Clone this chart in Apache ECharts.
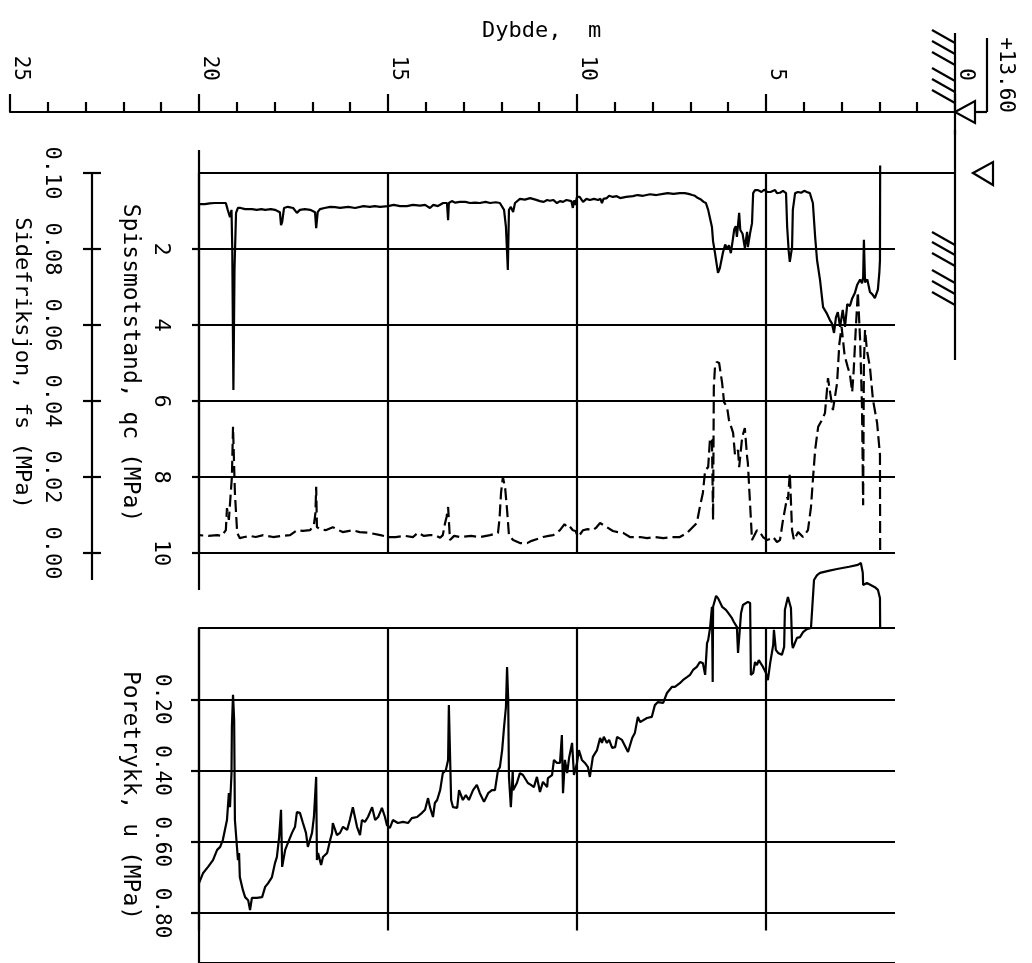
<!DOCTYPE html>
<html>
<head>
<meta charset="utf-8">
<script src="https://cdn.jsdelivr.net/npm/echarts@6/dist/echarts.min.js"></script>
<style>
  html, body { margin: 0; padding: 0; background: #fff; }
  #chart { width: 1032px; height: 963px; }
</style>
</head>
<body>
<div id="chart"></div>
<script>
// CPT sounding: tip resistance qc, sleeve friction fs and pore pressure u against depth (m)

// [depth m, qc MPa]
const qcData = [
  [1.98,-0.2],[1.985,2.3],[2.0,2.6],[2.04,3.07],[2.12,3.29],[2.18,3.2],[2.25,3.13],[2.32,2.8],[2.38,2.88],[2.41,1.76],
  [2.43,2.75],[2.46,2.9],[2.51,2.8],[2.59,2.95],[2.65,3.16],[2.72,3.3],[2.78,3.5],[2.85,3.45],[2.91,4.05],[2.97,3.6],
  [3.04,4.05],[3.10,3.66],[3.15,3.8],[3.20,4.21],[3.26,3.95],[3.31,3.87],[3.40,3.68],[3.49,3.53],[3.57,2.82],[3.65,2.29],
  [3.70,1.68],[3.76,0.79],[3.84,0.53],[3.92,0.5],[3.99,0.47],[4.07,0.52],[4.15,0.5],[4.23,0.53],[4.29,0.97],[4.31,1.95],
  [4.37,2.34],[4.40,2.05],[4.44,1.42],[4.47,0.53],[4.55,0.47],[4.63,0.52],[4.71,0.53],[4.76,0.45],[4.81,0.42],[4.88,0.5],
  [4.97,0.5],[5.05,0.44],[5.12,0.5],[5.21,0.45],[5.29,0.45],[5.34,0.53],[5.37,1.32],[5.42,1.58],[5.48,1.95],[5.50,1.55],
  [5.56,1.97],[5.62,1.6],[5.68,1.5],[5.71,1.05],[5.77,1.68],[5.80,1.4],[5.84,1.48],[5.87,1.7],[5.93,2.11],[5.98,1.9],
  [6.03,2.0],[6.08,1.88],[6.14,2.1],[6.22,2.5],[6.27,2.63],[6.35,2.1],[6.40,1.8],[6.43,1.42],[6.48,1.2],[6.53,0.97],
  [6.59,0.79],[6.65,0.76],[6.72,0.7],[6.80,0.66],[6.88,0.6],[6.95,0.58],[7.05,0.55],[7.15,0.53],[7.28,0.53],[7.45,0.55],
  [7.6,0.53],[7.72,0.55],[7.9,0.58],[8.07,0.56],[8.25,0.6],[8.4,0.58],[8.52,0.61],[8.7,0.63],[8.86,0.66],[8.95,0.61],
  [9.05,0.63],[9.15,0.6],[9.21,0.66],[9.30,0.68],[9.34,0.79],[9.38,0.68],[9.44,0.71],[9.55,0.68],[9.66,0.71],[9.75,0.68],
  [9.84,0.76],[9.93,0.63],[10.0,0.63],[10.05,0.84],[10.08,0.72],[10.11,0.92],[10.15,0.74],[10.19,0.79],[10.28,0.71],[10.37,0.76],
  [10.45,0.74],[10.53,0.79],[10.63,0.71],[10.72,0.73],[10.79,0.71],[10.88,0.76],[10.98,0.74],[11.1,0.7],[11.24,0.66],[11.38,0.7],
  [11.51,0.68],[11.64,0.79],[11.69,1.03],[11.75,0.89],[11.80,0.97],[11.83,2.55],[11.88,1.42],[11.93,0.97],[12.04,0.79],[12.15,0.77],
  [12.30,0.79],[12.42,0.76],[12.57,0.79],[12.7,0.78],[12.83,0.79],[12.95,0.76],[13.10,0.76],[13.22,0.78],[13.31,0.74],[13.39,0.79],
  [13.41,1.24],[13.44,0.79],[13.54,0.79],[13.68,0.87],[13.8,0.84],[13.89,0.92],[14.02,0.84],[14.15,0.86],[14.34,0.84],[14.5,0.87],
  [14.68,0.87],[14.85,0.84],[15.0,0.87],[15.21,0.89],[15.35,0.87],[15.48,0.89],[15.65,0.87],[15.87,0.92],[16.05,0.89],[16.27,0.92],
  [16.4,0.9],[16.53,0.89],[16.68,0.92],[16.80,0.95],[16.86,1.03],[16.90,1.45],[16.93,1.03],[17.06,0.97],[17.2,0.95],[17.33,0.97],
  [17.41,1.05],[17.51,0.92],[17.65,0.89],[17.75,0.92],[17.80,1.29],[17.83,1.37],[17.86,1.03],[17.99,0.97],[18.1,0.95],[18.25,0.97],
  [18.35,0.95],[18.47,0.97],[18.6,0.95],[18.78,0.95],[18.9,0.92],[18.97,0.92],[19.02,1.05],[19.06,2.5],[19.09,5.71],[19.12,2.0],
  [19.14,0.97],[19.18,1.16],[19.24,0.97],[19.29,0.79],[19.45,0.79],[19.58,0.79],[19.72,0.8],[19.84,0.82],[20.0,0.82]
];

// [depth m, fs MPa]
const fsData = [
  [1.98,0.0008],[1.985,0.0258],[2.01,0.0263],[2.06,0.0342],[2.17,0.0403],[2.25,0.0489],[2.33,0.0534],[2.38,0.0587],[2.41,0.05],[2.43,0.0126],
  [2.46,0.0384],[2.51,0.056],[2.57,0.0687],[2.63,0.058],[2.68,0.048],[2.72,0.0424],[2.78,0.047],[2.84,0.049],[2.92,0.052],[3.00,0.0595],
  [3.06,0.055],[3.12,0.0447],[3.23,0.0376],[3.30,0.042],[3.36,0.046],[3.44,0.0368],[3.52,0.035],[3.62,0.0332],[3.70,0.0271],[3.76,0.0192],
  [3.81,0.0121],[3.89,0.006],[4.02,0.0042],[4.15,0.0055],[4.26,0.0034],[4.31,0.006],[4.37,0.021],[4.42,0.014],[4.44,0.0147],[4.55,0.0087],
  [4.63,0.0034],[4.71,0.0029],[4.81,0.0042],[4.89,0.0037],[4.97,0.0034],[5.08,0.0042],[5.16,0.0055],[5.24,0.006],[5.37,0.0034],[5.42,0.0039],
  [5.48,0.0237],[5.50,0.0253],[5.56,0.0329],[5.63,0.0305],[5.71,0.0226],[5.74,0.0271],[5.82,0.0258],[5.87,0.0316],[5.98,0.035],[6.03,0.0384],
  [6.11,0.0397],[6.16,0.0447],[6.24,0.05],[6.30,0.0503],[6.35,0.0489],[6.38,0.0437],[6.40,0.0087],[6.43,0.0297],[6.48,0.0303],[6.53,0.0226],
  [6.61,0.0218],[6.67,0.0158],[6.75,0.0121],[6.83,0.0079],[6.96,0.0066],[7.09,0.0053],[7.28,0.0042],[7.5,0.0042],[7.72,0.0039],[7.95,0.0042],
  [8.15,0.0039],[8.33,0.0042],[8.6,0.0042],[8.78,0.0053],[8.92,0.0055],[9.05,0.0058],[9.21,0.0068],[9.39,0.0079],[9.5,0.0066],[9.58,0.006],
  [9.72,0.0063],[9.84,0.006],[9.97,0.0042],[10.04,0.0058],[10.11,0.006],[10.2,0.0071],[10.26,0.0068],[10.33,0.0076],[10.45,0.006],[10.55,0.0053],
  [10.63,0.0047],[10.75,0.0045],[10.90,0.0042],[11.05,0.0037],[11.2,0.0032],[11.32,0.0026],[11.51,0.0026],[11.69,0.0034],[11.80,0.0047],[11.85,0.0113],
  [11.90,0.017],[11.96,0.02],[12.01,0.0158],[12.05,0.009],[12.09,0.0053],[12.30,0.0047],[12.57,0.0042],[12.8,0.0045],[13.10,0.0042],[13.25,0.0045],
  [13.36,0.0034],[13.41,0.0121],[13.45,0.0095],[13.49,0.0079],[13.55,0.0047],[13.62,0.004],[13.75,0.0047],[13.89,0.0047],[14.05,0.0045],[14.21,0.0053],
  [14.34,0.0042],[14.55,0.0045],[14.8,0.0042],[15.0,0.0042],[15.2,0.0047],[15.5,0.0053],[15.75,0.0055],[15.93,0.006],[16.2,0.0055],[16.46,0.0068],
  [16.65,0.006],[16.8,0.0063],[16.88,0.0068],[16.90,0.0174],[16.92,0.0105],[16.96,0.0074],[17.06,0.006],[17.25,0.0058],[17.41,0.006],[17.59,0.0047],
  [17.8,0.0045],[18.04,0.0042],[18.3,0.0047],[18.5,0.0042],[18.65,0.0045],[18.8,0.0042],[18.92,0.0039],[18.99,0.0053],[19.05,0.0158],[19.10,0.0332],
  [19.13,0.02],[19.21,0.0087],[19.26,0.0118],[19.29,0.006],[19.4,0.0045],[19.52,0.0047],[19.75,0.0045],[20.0,0.0047]
];

// [depth m, u MPa]
const uData = [
  [1.98,0.0],[1.985,-0.079],[2.04,-0.101],[2.12,-0.108],[2.33,-0.119],[2.43,-0.114],[2.44,-0.146],[2.49,-0.172],[2.57,-0.167],[2.8,-0.162],
  [3.12,-0.156],[3.35,-0.151],[3.57,-0.146],[3.65,-0.14],[3.73,-0.127],[3.78,-0.048],[3.81,0.0],[3.92,0.003],[4.02,0.011],[4.10,0.024],
  [4.18,0.026],[4.29,0.053],[4.31,0.04],[4.34,-0.053],[4.42,-0.082],[4.44,-0.087],[4.50,-0.048],[4.52,0.05],[4.58,0.071],[4.68,0.066],
  [4.74,0.058],[4.79,0.005],[4.81,0.045],[4.89,0.093],[4.95,0.138],[5.0,0.119],[5.08,0.103],[5.11,0.106],[5.19,0.085],[5.24,0.098],
  [5.29,0.09],[5.34,0.119],[5.40,0.124],[5.42,-0.066],[5.48,-0.069],[5.53,-0.066],[5.61,-0.061],[5.66,-0.04],[5.74,0.066],[5.77,-0.003],
  [5.85,-0.016],[5.90,-0.026],[6.0,-0.04],[6.06,-0.048],[6.16,-0.056],[6.27,-0.079],[6.32,-0.085],[6.40,-0.056],[6.41,0.143],[6.43,-0.056],
  [6.48,0.0],[6.53,0.032],[6.56,0.04],[6.61,0.124],[6.67,0.093],[6.75,0.09],[6.83,0.103],[6.93,0.111],[7.01,0.124],[7.09,0.13],
  [7.2,0.138],[7.28,0.146],[7.41,0.156],[7.49,0.156],[7.62,0.172],[7.72,0.198],[7.86,0.196],[7.94,0.204],[8.02,0.235],[8.15,0.238],
  [8.33,0.249],[8.39,0.235],[8.47,0.278],[8.54,0.291],[8.65,0.328],[8.81,0.296],[8.94,0.288],[8.99,0.315],[9.07,0.317],[9.15,0.296],
  [9.21,0.304],[9.29,0.288],[9.34,0.304],[9.39,0.291],[9.47,0.323],[9.52,0.331],[9.58,0.341],[9.60,0.344],[9.66,0.394],[9.71,0.368],
  [9.79,0.357],[9.87,0.349],[9.95,0.323],[10.0,0.357],[10.08,0.389],[10.13,0.304],[10.21,0.344],[10.26,0.384],[10.32,0.349],[10.37,0.437],
  [10.40,0.283],[10.45,0.357],[10.53,0.357],[10.61,0.349],[10.66,0.389],[10.77,0.397],[10.79,0.421],[10.90,0.407],[10.98,0.434],[11.06,0.394],
  [11.14,0.421],[11.22,0.415],[11.30,0.41],[11.43,0.389],[11.51,0.384],[11.59,0.41],[11.69,0.429],[11.70,0.376],[11.72,0.42],[11.75,0.474],
  [11.80,0.394],[11.82,0.19],[11.85,0.103],[11.88,0.209],[11.93,0.262],[11.98,0.323],[12.04,0.368],[12.09,0.376],[12.17,0.429],[12.25,0.429],
  [12.35,0.437],[12.46,0.46],[12.57,0.437],[12.65,0.415],[12.75,0.429],[12.86,0.455],[12.94,0.442],[13.02,0.455],[13.12,0.429],[13.17,0.476],
  [13.28,0.474],[13.33,0.455],[13.39,0.204],[13.41,0.349],[13.47,0.376],[13.55,0.384],[13.62,0.429],[13.70,0.455],[13.76,0.463],[13.81,0.5],
  [13.89,0.474],[13.94,0.45],[14.02,0.481],[14.10,0.489],[14.23,0.5],[14.37,0.503],[14.47,0.516],[14.6,0.513],[14.74,0.516],[14.87,0.508],
  [14.95,0.529],[15.03,0.521],[15.08,0.5],[15.16,0.476],[15.26,0.5],[15.34,0.508],[15.42,0.474],[15.53,0.5],[15.61,0.513],[15.69,0.508],
  [15.74,0.548],[15.82,0.526],[15.93,0.474],[16.01,0.508],[16.08,0.534],[16.19,0.526],[16.27,0.542],[16.35,0.548],[16.46,0.516],[16.48,0.542],
  [16.53,0.561],[16.61,0.595],[16.72,0.606],[16.77,0.627],[16.85,0.595],[16.88,0.614],[16.90,0.394],[16.96,0.5],[17.01,0.542],[17.12,0.579],
  [17.17,0.542],[17.25,0.516],[17.33,0.489],[17.41,0.487],[17.46,0.526],[17.54,0.542],[17.65,0.569],[17.72,0.587],[17.80,0.632],[17.83,0.481],
  [17.88,0.553],[17.94,0.606],[17.99,0.622],[18.07,0.659],[18.17,0.675],[18.25,0.685],[18.33,0.712],[18.47,0.714],[18.60,0.714],[18.65,0.746],
  [18.70,0.72],[18.78,0.712],[18.84,0.693],[18.92,0.659],[18.94,0.595],[18.97,0.614],[18.99,0.587],[19.05,0.508],[19.07,0.243],[19.10,0.177],
  [19.13,0.262],[19.14,0.384],[19.18,0.474],[19.21,0.437],[19.26,0.508],[19.37,0.561],[19.44,0.579],[19.52,0.587],[19.63,0.614],[19.76,0.632],
  [19.89,0.648],[20.0,0.675]
];

const depthTitle = 'Dybde,  m';
const qcTitle = 'Spissmotstand, qc (MPa)';
const fsTitle = 'Sidefriksjon, fs (MPa)';
const uTitle = 'Poretrykk, u (MPa)';
const groundLevel = '+13.60';

// ---- layout (pixels) ----
const FONT = 'DejaVu Sans Mono';
const INK = '#000';
const LW = 2.2;
const CURVE_W = 2.2;
const X0 = 955;              // depth 0
const PXM = 37.8;            // pixels per metre
const X20 = X0 - 20 * PXM;   // depth 20 (left frame)
const XR = 895;              // right end of the panel grid lines
const RULER_Y = 112;
const UP_TOP = 173, UP_H = 380;
const LO_TOP = 628, PX_U = 378;
const FS_X = 92;

const inkLine = { color: INK, width: LW };
const fix2 = v => Number(v).toFixed(2);

const chart = echarts.init(document.getElementById('chart'));

function seg(x1, y1, x2, y2) {
  return { type: 'line', silent: true, shape: { x1, y1, x2, y2 }, style: { stroke: INK, lineWidth: LW } };
}
function tri(points) {
  return { type: 'polygon', silent: true, shape: { points }, style: { stroke: INK, fill: '#fff', lineWidth: LW } };
}
function hatch(x, ys) {
  return ys.map(y => seg(x - 23, y, x, y + 13));
}

const plotX = (gridIndex) => ({
  gridIndex, type: 'value', min: 0, max: 20, interval: 5, inverse: true, position: 'top',
  axisLine: { show: false, onZero: false }, axisTick: { show: false }, axisLabel: { show: false },
  splitLine: { show: true, showMinLine: false, lineStyle: inkLine }
});
const hiddenAxis = (gridIndex, min, max, inverse) => ({ gridIndex, type: 'value', show: false, min, max, inverse: !!inverse });

const option = {
  animation: false,
  backgroundColor: '#fff',
  textStyle: { fontFamily: FONT, color: INK },
  grid: [
    { left: X0 - 25 * PXM, top: RULER_Y, width: 25 * PXM, height: 1 },
    { left: X20, top: UP_TOP, width: 20 * PXM, height: UP_H },
    { left: X20, top: UP_TOP, width: XR - X20, height: UP_H },
    { left: X20, top: LO_TOP, width: 20 * PXM, height: 0.8 * PX_U },
    { left: X20, top: LO_TOP, width: XR - X20, height: 0.94 * PX_U }
  ],
  xAxis: [
    {
      gridIndex: 0, type: 'value', min: 0, max: 25, interval: 5, inverse: true, position: 'top',
      axisLine: { show: true, onZero: false, lineStyle: inkLine },
      axisTick: { show: true, inside: false, length: 18, lineStyle: inkLine },
      minorTick: { show: true, splitNumber: 5, length: 10, lineStyle: inkLine },
      axisLabel: { show: true, rotate: 90, margin: 31, align: 'right', verticalAlign: 'bottom',
        fontSize: 21, fontFamily: FONT, color: INK },
      splitLine: { show: false }
    },
    plotX(1),
    hiddenAxis(2, 0, 1),
    plotX(3),
    hiddenAxis(4, 0, 1)
  ],
  yAxis: [
    hiddenAxis(0, 0, 1),
    hiddenAxis(1, 0, 10, true),
    hiddenAxis(1, 0, 0.1),
    {
      gridIndex: 2, type: 'value', min: 0, max: 10, interval: 2, inverse: true, position: 'left',
      axisLine: { show: true, onZero: false, lineStyle: inkLine },
      axisTick: { show: true, length: 7, lineStyle: inkLine },
      axisLabel: { rotate: -90, margin: 27, align: 'center', verticalAlign: 'top', showMinLabel: false,
        fontSize: 22, fontFamily: FONT, color: INK },
      splitLine: { show: true, lineStyle: inkLine },
      name: qcTitle, nameLocation: 'middle', nameRotate: -90, nameGap: 58,
      nameTextStyle: { fontSize: 23, fontFamily: FONT, color: INK, align: 'center', verticalAlign: 'top' }
    },
    {
      gridIndex: 2, type: 'value', min: 0, max: 0.1, interval: 0.02, position: 'left', offset: X20 - FS_X,
      axisLine: { show: true, onZero: false, lineStyle: inkLine },
      axisTick: { show: true, length: 9, lineStyle: inkLine },
      axisLabel: { rotate: -90, margin: 29, align: 'center', verticalAlign: 'top', formatter: fix2,
        fontSize: 22, fontFamily: FONT, color: INK },
      splitLine: { show: false },
      name: fsTitle, nameLocation: 'middle', nameRotate: -90, nameGap: 59,
      nameTextStyle: { fontSize: 22, fontFamily: FONT, color: INK, align: 'center', verticalAlign: 'top' }
    },
    {
      gridIndex: 2, type: 'value', min: 0, max: 0.1, interval: 0.02, position: 'left', offset: X20 - FS_X,
      axisLine: { show: false, onZero: false },
      axisTick: { show: true, inside: true, length: 9, lineStyle: inkLine },
      axisLabel: { show: false }, splitLine: { show: false }
    },
    hiddenAxis(3, 0, 0.8, true),
    {
      gridIndex: 4, type: 'value', min: 0, max: 0.94, interval: 0.2, inverse: true, position: 'left',
      axisLine: { show: true, onZero: false, lineStyle: inkLine },
      axisTick: { show: true, length: 8, lineStyle: inkLine },
      axisLabel: { rotate: -90, margin: 27, align: 'center', verticalAlign: 'top', formatter: fix2,
        showMinLabel: false, showMaxLabel: false, fontSize: 21, fontFamily: FONT, color: INK },
      splitLine: { show: true, lineStyle: inkLine },
      name: uTitle, nameLocation: 'middle', nameRotate: -90, nameGap: 58,
      nameTextStyle: { fontSize: 23, fontFamily: FONT, color: INK, align: 'center', verticalAlign: 'top' }
    }
  ],
  series: [
    { type: 'line', name: 'qc', xAxisIndex: 1, yAxisIndex: 1, data: qcData, symbol: 'none', clip: false,
      silent: true, lineStyle: { color: INK, width: CURVE_W } },
    { type: 'line', name: 'fs', xAxisIndex: 1, yAxisIndex: 2, data: fsData, symbol: 'none', clip: false,
      silent: true, lineStyle: { color: INK, width: CURVE_W, type: [12, 5] } },
    { type: 'line', name: 'u', xAxisIndex: 3, yAxisIndex: 6, data: uData, symbol: 'none', clip: false,
      silent: true, lineStyle: { color: INK, width: CURVE_W } }
  ],
  graphic: [
    { type: 'text', silent: true, x: 482, y: 31,
      style: { text: depthTitle, font: '22px "DejaVu Sans Mono"', fill: INK, align: 'left', verticalAlign: 'middle' } },
    { type: 'text', silent: true, x: 995, y: RULER_Y + 1, rotation: -Math.PI / 2,
      style: { text: groundLevel, font: '21px "DejaVu Sans Mono"', fill: INK, align: 'right', verticalAlign: 'bottom' } },
    // ground surface marker at depth 0
    seg(X0, 33, X0, 135),
    ...hatch(X0, [30, 41, 52, 68, 79, 90]),
    tri([[X0, RULER_Y], [X0 + 20, RULER_Y - 11], [X0 + 20, RULER_Y + 11]]),
    seg(X0 + 20, RULER_Y, X0 + 32, RULER_Y),
    seg(X0 + 32, 38, X0 + 32, RULER_Y),
    // upper panel extras
    seg(X0, 130, X0, 360),
    seg(XR, UP_TOP, X0, UP_TOP),
    tri([[X0 + 18, UP_TOP], [X0 + 38, UP_TOP - 11], [X0 + 38, UP_TOP + 12]]),
    ...hatch(X0, [232, 242, 253, 270, 281, 292]),
    seg(X20, 150, X20, UP_TOP),
    seg(X20, UP_TOP + UP_H, X20, 590),
    seg(FS_X, UP_TOP + UP_H, FS_X, 580)
  ]
};

chart.setOption(option);
</script>
</body>
</html>
